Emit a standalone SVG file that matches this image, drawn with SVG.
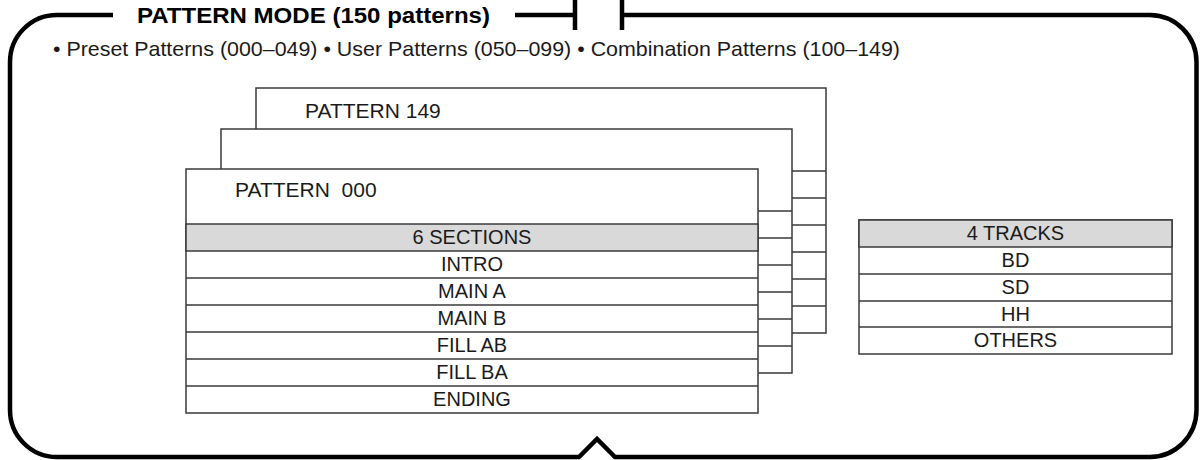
<svg xmlns="http://www.w3.org/2000/svg" width="1203" height="460" viewBox="0 0 1203 460">
<style>
  text { font-family: "Liberation Sans", Arial, sans-serif; fill: #1a1a1a; }
  .lbl { font-size: 20px; text-anchor: middle; }
  .big { font-size: 21px; }
  .title { font-size: 22px; font-weight: bold; fill: #000; }
  .box { fill: #fff; stroke: #3a3a3a; stroke-width: 1.5; }
  .hdr { fill: #d9d9d9; stroke: #3a3a3a; stroke-width: 1.5; }
  .ln { stroke: #3a3a3a; stroke-width: 1.5; fill: none; }
  .frame { fill: none; stroke: #000; stroke-width: 4.5; stroke-linejoin: miter; }
</style>
<rect width="1203" height="460" fill="#fff"/>
<g id="frame">
  <path class="frame" d="M113,15 H57 A47 47 0 0 0 10,62 V410 A47 47 0 0 0 57,457 H579 L597,439 L615,457 H1150 A47 47 0 0 0 1196.5,410 V62 A47 47 0 0 0 1150,15 H622"/>
  <path class="frame" d="M515,15 H575 M575,0 V30 M622,0 V30"/>
  <text class="title" x="137" y="23" textLength="353" lengthAdjust="spacingAndGlyphs">PATTERN MODE (150 patterns)</text>
  <text class="big" x="53" y="56" textLength="847" lengthAdjust="spacingAndGlyphs">• Preset Patterns (000–049) • User Patterns (050–099) • Combination Patterns (100–149)</text>
</g>
<g id="pattern149">
  <rect class="box" x="256" y="88" width="570" height="245"/>
  <path class="ln" d="M792,171 H826 M792,198 H826 M792,225 H826 M792,252 H826 M792,279 H826 M792,306 H826"/>
  <text class="big" x="305" y="118">PATTERN 149</text>
</g>
<g id="pattern-mid">
  <rect class="box" x="221" y="129" width="571" height="244"/>
  <path class="ln" d="M758,211 H792 M758,238 H792 M758,265 H792 M758,292 H792 M758,319 H792 M758,346 H792"/>
</g>
<g id="pattern000">
  <rect class="box" x="186" y="169" width="572" height="244"/>
  <rect class="hdr" x="186" y="224" width="572" height="27"/>
  <path class="ln" d="M186,278 H758 M186,305 H758 M186,332 H758 M186,359 H758 M186,386 H758"/>
  <text class="big" x="235" y="197" xml:space="preserve">PATTERN  000</text>
  <text class="lbl" x="472" y="244">6 SECTIONS</text>
  <text class="lbl" x="472" y="271">INTRO</text>
  <text class="lbl" x="472" y="298">MAIN A</text>
  <text class="lbl" x="472" y="325">MAIN B</text>
  <text class="lbl" x="472" y="352">FILL AB</text>
  <text class="lbl" x="472" y="379">FILL BA</text>
  <text class="lbl" x="472" y="406">ENDING</text>
</g>
<g id="tracks">
  <rect class="box" x="859" y="220" width="313" height="134"/>
  <rect class="hdr" x="859" y="220" width="313" height="27"/>
  <path class="ln" d="M859,274 H1172 M859,301 H1172 M859,327 H1172"/>
  <text class="lbl" x="1015.5" y="240">4 TRACKS</text>
  <text class="lbl" x="1015.5" y="267">BD</text>
  <text class="lbl" x="1015.5" y="294">SD</text>
  <text class="lbl" x="1015.5" y="321">HH</text>
  <text class="lbl" x="1015.5" y="347">OTHERS</text>
</g>
<g id="connectors"></g>
</svg>
